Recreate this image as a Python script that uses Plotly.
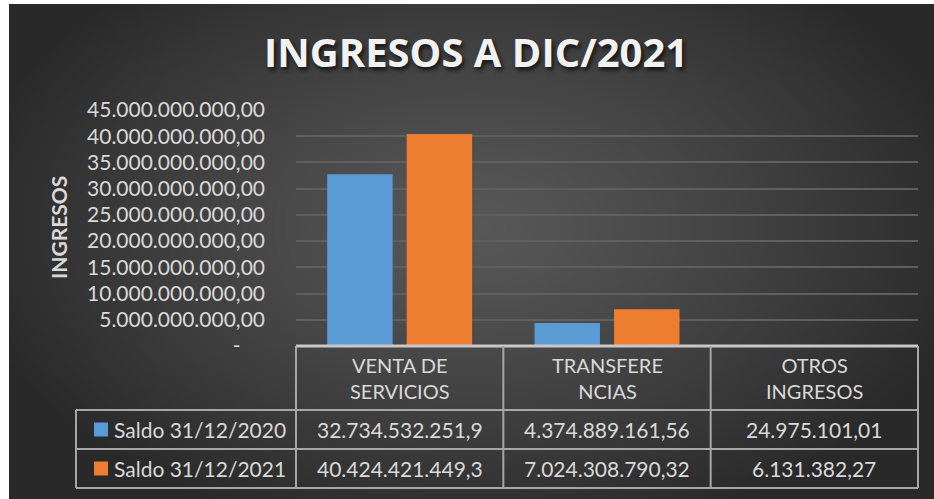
import base64, struct, zlib
import numpy as np
import plotly.graph_objects as go

# ---------------- data ----------------
categories = ["VENTA DE SERVICIOS", "TRANSFERENCIAS", "OTROS INGRESOS"]
header_labels = ["VENTA DE<br>SERVICIOS", "TRANSFERE<br>NCIAS", "OTROS<br>INGRESOS"]
series_names = ["Saldo 31/12/2020", "Saldo 31/12/2021"]
values_2020 = [32734532251.9, 4374889161.56, 24975101.01]
values_2021 = [40424421449.3, 7024308790.32, 6131382.27]
cells_2020 = ["32.734.532.251,9", "4.374.889.161,56", "24.975.101,01"]
cells_2021 = ["40.424.421.449,3", "7.024.308.790,32", "6.131.382,27"]
tick_values = [0, 5e9, 10e9, 15e9, 20e9, 25e9, 30e9, 35e9, 40e9, 45e9]
tick_labels = ["-\u2007\u2007", "5.000.000.000,00", "10.000.000.000,00", "15.000.000.000,00",
               "20.000.000.000,00", "25.000.000.000,00", "30.000.000.000,00",
               "35.000.000.000,00", "40.000.000.000,00", "45.000.000.000,00"]
colors = ["#5b9bd5", "#ed7d31"]

# ---------------- geometry (pixels) ----------------
W, H = 934, 499
L, R, T, B = 296, 918, 110, 346
PW, PH = R - L, B - T

def px(x):
    return (x - L) / PW

def py(y):
    return (B - y) / PH

# ---------------- background gradient image ----------------
def png_uri(arr):
    h, w, _ = arr.shape
    raw = b"".join(b"\x00" + arr[i].tobytes() for i in range(h))
    def chunk(t, d):
        return struct.pack(">I", len(d)) + t + d + struct.pack(">I", zlib.crc32(t + d) & 0xffffffff)
    png = (b"\x89PNG\r\n\x1a\n" + chunk(b"IHDR", struct.pack(">IIBBBBB", w, h, 8, 2, 0, 0, 0))
           + chunk(b"IDAT", zlib.compress(raw, 9)) + chunk(b"IEND", b""))
    return "data:image/png;base64," + base64.b64encode(png).decode()

gw, gh = 232, 124
yy, xx = np.mgrid[0:gh, 0:gw]
dx = (xx / (gw - 1) - 0.5) * 925
dy = (yy / (gh - 1) - 0.45) * 495
r = np.sqrt((dx / 520) ** 2 + (dy / 330) ** 2)
v = 88 - 47 * np.clip(r, 0, 1) ** 1.2
img = np.clip(np.stack([v, v, v], axis=-1), 0, 255).astype(np.uint8)
bg_uri = png_uri(img)

fig = go.Figure()
for name, vals, col in zip(series_names, [values_2020, values_2021], colors):
    fig.add_trace(go.Bar(x=categories, y=vals, name=name, marker=dict(color=col, line=dict(width=0))))

txt = "#d9d9d9"
font_family = "Lato"
fig.update_layout(
    width=W, height=H,
    margin=dict(l=L, r=W - R, t=T, b=H - B, pad=0),
    paper_bgcolor="#ffffff",
    plot_bgcolor="rgba(0,0,0,0)",
    showlegend=False,
    barmode="group", bargap=0.233, bargroupgap=0.177,
    font=dict(family=font_family, color=txt),
    xaxis=dict(range=[-0.5, 2.5], showticklabels=False, showgrid=False, zeroline=False,
               showline=False, fixedrange=True),
    yaxis=dict(range=[0, 45e9], tickvals=tick_values, ticktext=tick_labels,
               tickfont=dict(size=21, color=txt, family=font_family),
               showgrid=True, gridcolor="#5f5f5f", gridwidth=2, zeroline=False,
               showline=False, ticks="", ticklabelstandoff=30),
)

fig.add_layout_image(dict(source=bg_uri, xref="paper", yref="paper",
                          x=px(9), y=py(4), sizex=(W - 9) / PW, sizey=(H - 4) / PH,
                          xanchor="left", yanchor="top", sizing="stretch", layer="below"))

# title
fig.add_annotation(text="<b>INGRESOS A DIC/2021</b>", xref="paper", yref="paper",
                   x=px(476), y=py(51), showarrow=False, xanchor="center", yanchor="middle",
                   font=dict(size=40, color="#f2f2f2", family="Open Sans",
                             shadow="2px 3px 4px rgba(0,0,0,0.7)"))
# y-axis title
fig.add_annotation(text="<b>INGRESOS</b>", xref="paper", yref="paper", x=px(58), y=py(228),
                   showarrow=False, textangle=-90, xanchor="center", yanchor="middle",
                   font=dict(size=21, color=txt, family=font_family))

# ---------------- data table ----------------
line = dict(color="#a6a6a6", width=2)
n = len(categories)
rows_y = [346, 410, 449, 488]
left_table = 76
fig.add_shape(type="line", xref="paper", yref="paper", x0=0, x1=1, y0=py(rows_y[0]), y1=py(rows_y[0]),
              line=dict(color="#c8c8c8", width=3))
for ry in rows_y[1:]:
    fig.add_shape(type="line", xref="paper", yref="paper", x0=px(left_table), x1=1,
                  y0=py(ry), y1=py(ry), line=line)
for i in range(n + 1):
    fig.add_shape(type="line", xref="paper", yref="paper", x0=i / n, x1=i / n,
                  y0=py(rows_y[0]), y1=py(rows_y[-1]), line=line)
fig.add_shape(type="line", xref="paper", yref="paper", x0=px(left_table), x1=px(left_table),
              y0=py(rows_y[1]), y1=py(rows_y[-1]), line=line)

for cat, lab in zip(categories, header_labels):
    fig.add_annotation(text=lab, xref="x", yref="paper", x=cat, y=py((rows_y[0] + rows_y[1]) / 2),
                       showarrow=False, xanchor="center", yanchor="middle",
                       font=dict(size=20, color=txt, family=font_family))

for k, (name, cells, col) in enumerate(zip(series_names, [cells_2020, cells_2021], colors)):
    cy = (rows_y[k + 1] + rows_y[k + 2]) / 2
    fig.add_shape(type="rect", xref="paper", yref="paper", x0=px(94), x1=px(108),
                  y0=py(cy - 7), y1=py(cy + 7), fillcolor=col, line=dict(width=0))
    fig.add_annotation(text=name, xref="paper", yref="paper", x=px(112), y=py(cy),
                       showarrow=False, xanchor="left", yanchor="middle",
                       font=dict(size=21, color=txt, family=font_family))
    for cat, c in zip(categories, cells):
        fig.add_annotation(text=c, xref="x", yref="paper", x=cat, y=py(cy),
                           showarrow=False, xanchor="center", yanchor="middle",
                           font=dict(size=21, color=txt, family=font_family))

fig.write_html("out.html", config={"displayModeBar": False},
               post_script="document.body.style.margin='0';")
